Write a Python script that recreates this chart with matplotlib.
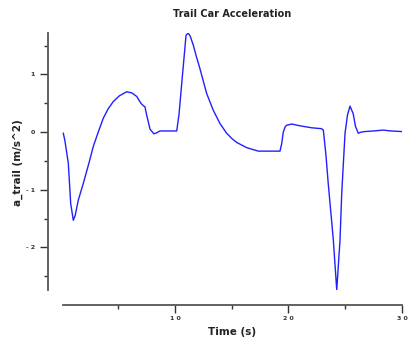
import matplotlib
matplotlib.use("Agg")
import matplotlib.pyplot as plt
from matplotlib.ticker import FixedLocator

time_s = [0.16, 0.3, 0.6, 0.81, 1.04, 1.2, 1.48, 1.92, 2.4, 2.8, 3.2, 3.68, 4.1, 4.56,
          5.1, 5.74, 6.2, 6.62, 7.0, 7.2, 7.35, 7.5, 7.8, 8.15, 8.4, 8.68, 9.5, 10.15,
          10.35, 10.59, 10.8, 10.97, 11.17, 11.35, 11.61, 11.9, 12.2, 12.5, 12.79, 13.37,
          13.96, 14.55, 15.0, 15.44, 16.32, 17.34, 18.3, 19.25, 19.4, 19.54, 19.7, 19.84,
          20.28, 21.0, 22.04, 22.9, 23.07, 23.3, 23.5, 23.95, 24.25, 24.54, 24.69, 24.98,
          25.2, 25.42, 25.7, 25.9, 26.15, 26.4, 26.74, 27.5, 28.35, 29.0, 29.97]
a_trail = [-0.02, -0.15, -0.54, -1.24, -1.53, -1.45, -1.18, -0.89, -0.55, -0.25, -0.02,
           0.24, 0.40, 0.53, 0.63, 0.70, 0.68, 0.62, 0.50, 0.46, 0.44, 0.30, 0.05, -0.03,
           -0.01, 0.02, 0.02, 0.02, 0.30, 0.84, 1.30, 1.68, 1.72, 1.66, 1.51, 1.30, 1.10,
           0.88, 0.67, 0.38, 0.15, -0.02, -0.11, -0.18, -0.27, -0.33, -0.33, -0.33, -0.20,
           0.0, 0.09, 0.12, 0.14, 0.11, 0.075, 0.06, 0.035, -0.40, -0.89, -1.87, -2.74,
           -1.87, -1.06, -0.02, 0.30, 0.45, 0.32, 0.10, -0.02, 0.00, 0.01, 0.02, 0.035,
           0.02, 0.01]

x_major = [10, 20, 30]
x_minor = [5, 15, 25]
x_labels = ["1 0", "2 0", "3 0"]
y_major = [1, 0, -1, -2]
y_minor = [1.5, 0.5, -0.5, -1.5, -2.5]
y_labels = ["1", "0", "- 1", "- 2"]

plt.rcParams['font.family'] = ['DejaVu Sans']

fig = plt.figure(figsize=(4.14, 3.49), dpi=100)
ax = fig.add_axes([61.5/414, (349-290)/349, (402-61.5)/414, (290-33)/349])
ax.plot(time_s, a_trail, color='#2020ff', lw=1.0)
ax.set_xlim(0, 30)
ax.set_ylim(-2.74, 1.72)

for s in ['top', 'right']:
    ax.spines[s].set_visible(False)
ax.spines['left'].set_position(('outward', 9.5))
ax.spines['bottom'].set_position(('outward', 11))
ax.spines['bottom'].set_bounds(0.1, 30)
for s in ['left', 'bottom']:
    ax.spines[s].set_color('#555555')
    ax.spines[s].set_linewidth(1.3)

ax.xaxis.set_major_locator(FixedLocator(x_major))
ax.xaxis.set_minor_locator(FixedLocator(x_minor))
ax.set_xticklabels(x_labels)
ax.yaxis.set_major_locator(FixedLocator(y_major))
ax.yaxis.set_minor_locator(FixedLocator(y_minor))
ax.set_yticklabels(y_labels)

ax.tick_params(axis='both', which='major', length=5.5, width=1.0, color='#333333',
               labelsize=4.5, pad=2.5)
ax.tick_params(axis='both', which='minor', length=3, width=1.0, color='#333333')
ax.tick_params(axis='y', which='major', pad=4)
for lab in ax.get_xticklabels() + ax.get_yticklabels():
    lab.set_fontweight('bold')
    lab.set_color('#333333')

fig.text(232/414, 1 - 332/349, 'Time (s)', ha='center', va='center',
         fontsize=7.5, fontweight='bold', color='#222222')
fig.text(18/414, 1 - 163/349, 'a_trail (m/s^2)', ha='center', va='center', rotation=90,
         fontsize=7.5, fontweight='bold', color='#222222')
fig.text(232/414, 1 - 14/349, 'Trail Car Acceleration', ha='center', va='center',
         fontsize=7, fontweight='bold', color='#222222')

fig.savefig('out.png', dpi=100)
